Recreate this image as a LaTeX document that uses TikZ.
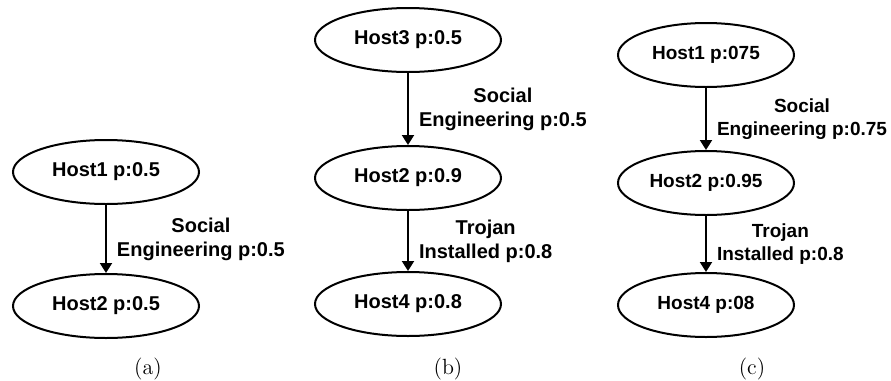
\documentclass[tikz,border=0pt]{standalone}
\usepackage{fontspec}
\newfontfamily\hostfont{Liberation Sans}
\usetikzlibrary{shapes.geometric,arrows.meta}
\begin{document}
\begin{tikzpicture}[x=0.5pt,y=-0.5pt,
  host/.style={ellipse, draw, line width=1pt, inner sep=0pt,
    minimum width=93pt, minimum height=32pt,
    font=\hostfont\bfseries\fontsize{10}{12}\selectfont},
  hostsmall/.style={host, minimum width=88pt,
    font=\hostfont\bfseries\fontsize{9.5}{11.4}\selectfont},
  link/.style={line width=1pt, -{Triangle[length=5pt,width=6pt]}},
  lbl/.style={midway, anchor=west, xshift=5pt, inner sep=0pt, align=center,
    font=\hostfont\bfseries\fontsize{10}{12}\selectfont},
  lblsmall/.style={lbl, font=\hostfont\bfseries\fontsize{9.5}{11.4}\selectfont},
  subcap/.style={inner sep=0pt, font=\fontsize{11}{13}\selectfont}]
\useasboundingbox (0,0) rectangle (891,381);

% (a) two hosts
\node[host] (a1) at (106,172) {Host1 p:0.5};
\node[host] (a2) at (106,306) {Host2 p:0.5};
\draw[link] (a1) -- (a2) node[lbl] {Social\\Engineering p:0.5};
\node[subcap] (capa) at (148,369) {(a)};

% (b) three hosts in a chain
\node[host] (b3) at (408,40) {Host3 p:0.5};
\node[host] (b2) at (408,178) {Host2 p:0.9};
\node[host] (b4) at (408,304) {Host4 p:0.8};
\draw[link] (b3) -- (b2) node[lbl] {Social\\Engineering p:0.5};
\draw[link] (b2) -- (b4) node[lbl] {Trojan\\Installed p:0.8};
\node[subcap] (capb) at (448,369) {(b)};

% (c) three hosts, slightly smaller
\node[hostsmall] (c1) at (706,55) {Host1 p:075};
\node[hostsmall] (c2) at (706,183) {Host2 p:0.95};
\node[hostsmall] (c4) at (706,305) {Host4 p:08};
\draw[link] (c1) -- (c2) node[lblsmall] {Social\\Engineering p:0.75};
\draw[link] (c2) -- (c4) node[lblsmall] {Trojan\\Installed p:0.8};
\node[subcap] (capc) at (752,369) {(c)};
\end{tikzpicture}
\end{document}
